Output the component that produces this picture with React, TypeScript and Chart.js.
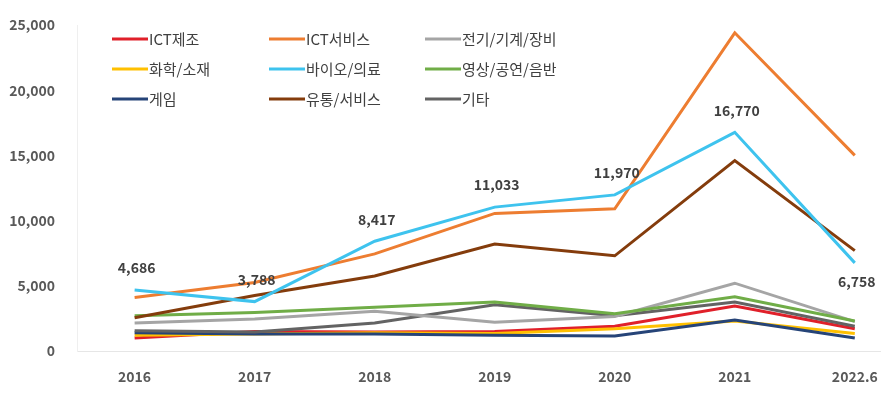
import React, { useEffect, useRef } from "react";
import { Chart, registerables } from "chart.js";

Chart.register(...registerables);

const categories = ["2016", "2017", "2018", "2019", "2020", "2021", "2022.6"];
const yTicks = [0, 5000, 10000, 15000, 20000, 25000];

const ictManufacturing = [1000, 1500, 1450, 1500, 1900, 3450, 1700];
const ictService = [4100, 5250, 7450, 10550, 10900, 24400, 15000];
const electricMachinery = [2150, 2450, 3050, 2200, 2650, 5200, 2250];
const chemicalMaterials = [1200, 1300, 1400, 1350, 1700, 2300, 1350];
const bioMedical = [4686, 3788, 8417, 11033, 11970, 16770, 6758];
const videoPerformance = [2700, 2950, 3350, 3750, 2850, 4150, 2300];
const gameValues = [1400, 1300, 1300, 1200, 1150, 2380, 1000];
const distributionService = [2550, 4250, 5750, 8200, 7300, 14600, 7700];
const others = [1550, 1450, 2150, 3550, 2700, 3750, 1900];

const seriesNames = [
  "ICT제조",
  "ICT서비스",
  "전기/기계/장비",
  "화학/소재",
  "바이오/의료",
  "영상/공연/음반",
  "게임",
  "유통/서비스",
  "기타",
];
const seriesValues = [
  ictManufacturing,
  ictService,
  electricMachinery,
  chemicalMaterials,
  bioMedical,
  videoPerformance,
  gameValues,
  distributionService,
  others,
];
const seriesColors = [
  "#E0202A",
  "#ED7D31",
  "#A5A5A5",
  "#FFC000",
  "#3EC3EE",
  "#70AD47",
  "#264478",
  "#843C0C",
  "#636363",
];
const labelledSeries = 4;

const FONT = "'Noto Sans CJK KR', 'Noto Sans', sans-serif";

const legendPlugin = {
  id: "insideLegend",
  afterDraw(chart: any) {
    const ctx = chart.ctx;
    const cols = [112, 269, 425];
    const rows = [39, 69, 99];
    ctx.save();
    ctx.font = `15px ${FONT}`;
    ctx.textBaseline = "middle";
    ctx.textAlign = "left";
    seriesNames.forEach((name, i) => {
      const x = cols[i % 3];
      const y = rows[Math.floor(i / 3)];
      ctx.strokeStyle = seriesColors[i];
      ctx.lineWidth = 3;
      ctx.beginPath();
      ctx.moveTo(x, y);
      ctx.lineTo(x + 36, y);
      ctx.stroke();
      ctx.fillStyle = "#404040";
      ctx.fillText(name, x + 37, y);
    });
    ctx.restore();
  },
};

const valueLabelPlugin = {
  id: "valueLabels",
  afterDatasetsDraw(chart: any) {
    const ctx = chart.ctx;
    const meta = chart.getDatasetMeta(labelledSeries);
    ctx.save();
    ctx.font = `bold 14px ${FONT}`;
    ctx.fillStyle = "#404040";
    ctx.textAlign = "center";
    ctx.textBaseline = "middle";
    const vals = seriesValues[labelledSeries];
    meta.data.forEach((pt: any, i: number) => {
      const last = i === vals.length - 1;
      const y = last ? pt.y + 19 : pt.y - 22;
      ctx.fillText(vals[i].toLocaleString("en-US"), pt.x + 2, y);
    });
    ctx.restore();
  },
};

export default function App() {
  const ref = useRef<HTMLCanvasElement>(null);
  useEffect(() => {
    document.body.style.margin = "0";
    const drawOrder = [0, 3, 6, 8, 2, 5, 7, 1, 4];
    const datasets = seriesNames.map((name, i) => ({
      label: name,
      data: seriesValues[i].map((v, j) => ({ x: j, y: v })),
      borderColor: seriesColors[i],
      backgroundColor: seriesColors[i],
      borderWidth: 3,
      pointRadius: 0,
      tension: 0,
      order: 9 - drawOrder.indexOf(i),
    }));
    const chart = new Chart(ref.current!, {
      type: "line",
      data: { datasets },
      options: {
        animation: false,
        responsive: false,
        maintainAspectRatio: false,
        layout: { padding: { top: 25, right: 9, left: 0, bottom: 0 } },
        plugins: { legend: { display: false }, tooltip: { enabled: false } },
        scales: {
          x: {
            type: "linear",
            min: -0.48,
            max: 6.21,
            afterBuildTicks: (scale: any) => {
              scale.ticks = categories.map((_, i) => ({ value: i }));
            },
            afterFit: (scale: any) => {
              scale.height = 46;
              scale.paddingLeft = 0;
              scale.paddingRight = 0;
            },
            grid: { display: false, drawTicks: false },
            border: { display: true, color: "#E6E6E6", width: 1 },
            ticks: {
              autoSkip: false,
              maxRotation: 0,
              padding: 17,
              color: "#595959",
              font: { family: FONT, size: 14, weight: "bold" },
              callback: (v: any) => categories[v] ?? "",
            },
          },
          y: {
            min: 0,
            max: 25000,
            afterBuildTicks: (scale: any) => {
              scale.ticks = yTicks.map((v) => ({ value: v }));
            },
            afterFit: (scale: any) => {
              scale.width = 77;
              scale.paddingTop = 0;
              scale.paddingBottom = 0;
            },
            grid: { display: false, drawTicks: false },
            border: { display: true, color: "#EFEFEF", width: 1 },
            ticks: {
              padding: 22,
              color: "#595959",
              font: { family: FONT, size: 14, weight: "bold" },
              callback: (v: any) => Number(v).toLocaleString("en-US"),
            },
          },
        },
      },
      plugins: [legendPlugin, valueLabelPlugin],
    } as any);
    return () => chart.destroy();
  }, []);
  return (
    <div style={{ width: 889, height: 397, background: "#fff" }}>
      <canvas ref={ref} width={889} height={397} />
    </div>
  );
}
